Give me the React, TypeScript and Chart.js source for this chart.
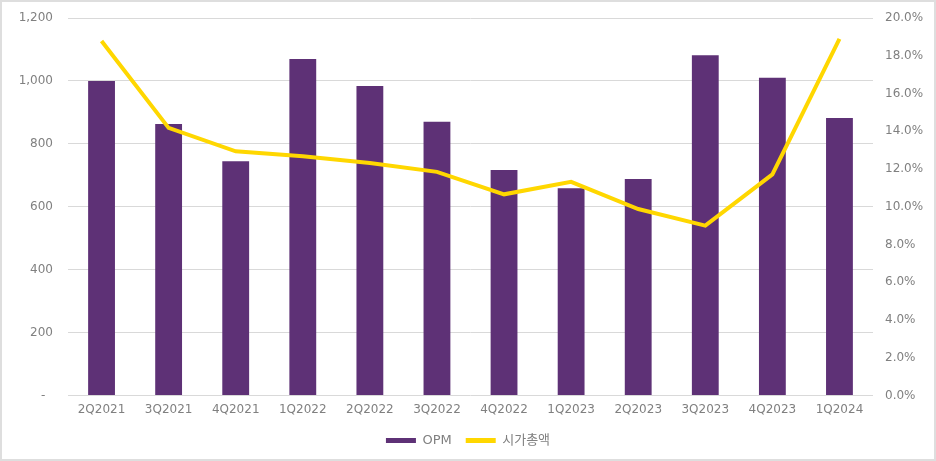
import React, { useEffect, useRef } from 'react';
import { Chart, registerables } from 'chart.js';

Chart.register(...registerables);

const categories = ['2Q2021', '3Q2021', '4Q2021', '1Q2022', '2Q2022', '3Q2022', '4Q2022', '1Q2023', '2Q2023', '3Q2023', '4Q2023', '1Q2024'];
const opmValues = [1000, 863, 745, 1070, 984, 870, 717, 659, 688, 1082, 1010, 882];
const marketCapPct = [18.78, 14.18, 12.94, 12.68, 12.32, 11.85, 10.66, 11.32, 9.88, 9.0, 11.72, 18.9];
const seriesNames = ['OPM', '시가총액'];
const leftAxis = { min: 0, max: 1200, step: 200 };
const rightAxis = { min: 0, max: 20, step: 2 };

const PURPLE = '#5E3176';
const GOLD = '#FFD700';
const GRID = '#d9d9d9';
const TICK = '#808080';
const FONT = "'DejaVu Sans', 'Noto Sans CJK KR', sans-serif";

export default function App() {
  const canvasRef = useRef<HTMLCanvasElement | null>(null);

  useEffect(() => {
    document.body.style.margin = '0';
    const canvas = canvasRef.current;
    if (!canvas) return;
    const chart = new Chart(canvas, {
      type: 'bar',
      data: {
        labels: categories,
        datasets: [
          {
            type: 'bar',
            label: seriesNames[0],
            data: opmValues,
            backgroundColor: PURPLE,
            borderWidth: 0,
            barPercentage: 1,
            categoryPercentage: 0.4,
            yAxisID: 'y',
            order: 1,
          },
          {
            type: 'line',
            label: seriesNames[1],
            data: marketCapPct,
            borderColor: GOLD,
            backgroundColor: GOLD,
            borderWidth: 4,
            pointRadius: 0,
            tension: 0,
            yAxisID: 'y1',
            order: 0,
          },
        ],
      },
      options: {
        animation: false,
        responsive: false,
        maintainAspectRatio: false,
        layout: { padding: { top: 18, bottom: 4, left: 0, right: 0 } },
        plugins: {
          tooltip: { enabled: false },
          legend: {
            position: 'bottom',
            labels: {
              font: { family: FONT, size: 13 },
              color: TICK,
              boxWidth: 30,
              boxHeight: 5,
              padding: 14,
              generateLabels: (ch: any) =>
                ch.data.datasets.map((ds: any, i: number) => ({
                  text: ds.label,
                  fillStyle: i === 0 ? PURPLE : GOLD,
                  strokeStyle: i === 0 ? PURPLE : GOLD,
                  lineWidth: 0,
                  hidden: false,
                  datasetIndex: i,
                  fontColor: TICK,
                })),
            },
          },
        },
        scales: {
          x: {
            grid: { display: false, drawTicks: false },
            border: { display: false },
            ticks: { color: TICK, font: { family: FONT, size: 12 }, padding: 7, maxRotation: 0 },
            afterFit: (s: any) => { s.height = s.height - 4; },
          },
          y: {
            position: 'left',
            min: leftAxis.min,
            max: leftAxis.max,
            grid: { color: GRID, lineWidth: 1, drawTicks: false },
            border: { display: false },
            ticks: {
              stepSize: leftAxis.step,
              color: TICK,
              font: { family: FONT, size: 12 },
              padding: 15,
              callback: (v: any) => (Number(v) === 0 ? '-  ' : Number(v).toLocaleString('en-US')),
            },
            afterFit: (s: any) => { s.width = 68; s.paddingTop = 0; s.paddingBottom = 0; },
          },
          y1: {
            position: 'right',
            min: rightAxis.min,
            max: rightAxis.max,
            grid: { display: false, drawTicks: false },
            border: { display: false },
            ticks: {
              stepSize: rightAxis.step,
              color: TICK,
              font: { family: FONT, size: 12 },
              padding: 12,
              callback: (v: any) => Number(v).toFixed(1) + '%',
            },
            afterFit: (s: any) => { s.width = 63; s.paddingTop = 0; s.paddingBottom = 0; },
          },
        },
      },
    });
    return () => chart.destroy();
  }, []);

  return (
    <div style={{ position: 'relative', width: 936, height: 461, background: '#fff' }}>
      <canvas ref={canvasRef} width={936} height={461} style={{ position: 'absolute', left: 0, top: 0 }} />
      <div
        style={{
          position: 'absolute',
          left: 0,
          top: 0,
          width: 936,
          height: 461,
          boxSizing: 'border-box',
          border: '2px solid #dedede',
          pointerEvents: 'none',
        }}
      />
    </div>
  );
}
